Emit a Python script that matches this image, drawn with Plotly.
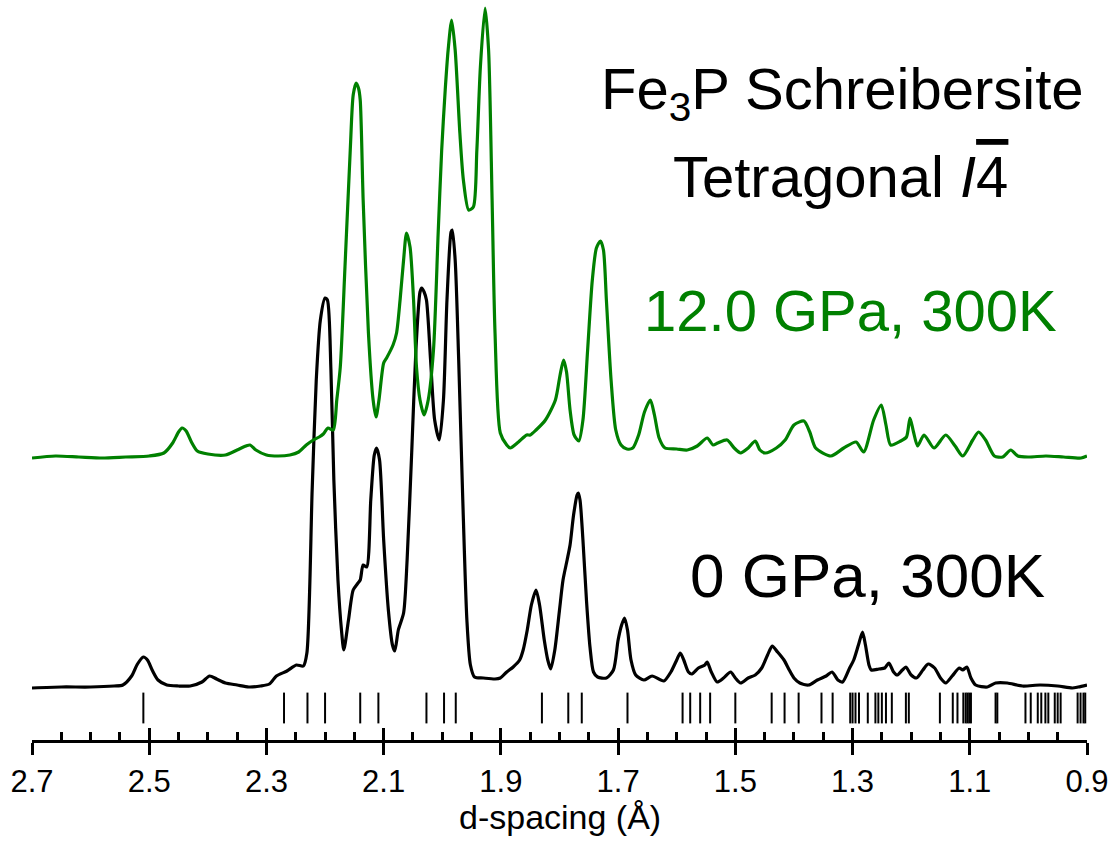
import plotly.graph_objects as go

# ---- 0 GPa, 300 K pattern: d-spacing (Å) and intensity above baseline (arb. units)
d_0gpa = [2.700, 2.650, 2.600, 2.560, 2.545, 2.530, 2.520, 2.510, 2.503, 2.495, 2.485, 2.470,
          2.450, 2.430, 2.410, 2.397, 2.385, 2.370, 2.350, 2.330, 2.310, 2.295, 2.283, 2.265,
          2.249, 2.237, 2.231, 2.222, 2.215, 2.208, 2.200, 2.196, 2.190, 2.185, 2.178, 2.172,
          2.168, 2.160, 2.152, 2.145, 2.140, 2.135, 2.129, 2.122, 2.116, 2.112, 2.107, 2.100,
          2.092, 2.085, 2.081, 2.075, 2.066, 2.060, 2.052, 2.045, 2.038, 2.035, 2.031, 2.027,
          2.020, 2.013, 2.005, 1.998, 1.992, 1.985, 1.983, 1.978, 1.972, 1.965, 1.958, 1.952,
          1.945, 1.930, 1.910, 1.901, 1.890, 1.879, 1.868, 1.862, 1.855, 1.848, 1.840, 1.834,
          1.826, 1.820, 1.815, 1.808, 1.800, 1.794, 1.787, 1.782, 1.776, 1.770, 1.768, 1.765,
          1.760, 1.754, 1.748, 1.742, 1.735, 1.720, 1.708, 1.700, 1.694, 1.689, 1.684, 1.678,
          1.670, 1.656, 1.642, 1.622, 1.610, 1.600, 1.594, 1.588, 1.580, 1.574, 1.563, 1.552,
          1.548, 1.541, 1.531, 1.520, 1.508, 1.500, 1.491, 1.478, 1.466, 1.455, 1.445, 1.437,
          1.428, 1.417, 1.408, 1.400, 1.390, 1.375, 1.360, 1.345, 1.335, 1.325, 1.317, 1.305,
          1.298, 1.290, 1.283, 1.278, 1.272, 1.268, 1.255, 1.245, 1.238, 1.230, 1.224, 1.215,
          1.209, 1.200, 1.191, 1.180, 1.171, 1.160, 1.150, 1.141, 1.130, 1.118, 1.112, 1.105,
          1.098, 1.090, 1.070, 1.056, 1.036, 1.010, 0.980, 0.950, 0.925, 0.915, 0.900]
i_0gpa = [-1, 0, 0, 1, 2, 11, 23, 30, 27, 17, 7, 2,
          1, 1, 5, 11, 8, 4, 2, 0, 1, 3, 11, 16,
          22, 21, 34, 197, 307, 367, 389, 387, 317, 207, 107, 57,
          37, 67, 97, 103, 107, 122, 120, 187, 232, 239, 227, 147,
          77, 42, 36, 57, 74, 127, 237, 337, 395, 399, 395, 387,
          327, 267, 247, 287, 387, 455, 457, 427, 327, 187, 67, 22,
          10, 9, 8, 9, 15, 20, 27, 37, 57, 82, 97, 82,
          47, 27, 18, 37, 77, 107, 127, 142, 172, 192, 194, 187,
          147, 87, 40, 15, 10, 9, 17, 47, 62, 69, 57, 27,
          12, 7, 11, 6, 15, 27, 34, 27, 15, 13, 19, 22,
          25, 15, 5, 9, 15, 9, 4, 9, 12, 19, 32, 41,
          35, 27, 17, 9, 4, 2, 7, 11, 15, 7, 5, 19,
          27, 42, 55, 42, 22, 17, 18, 19, 24, 15, 12, 17,
          20, 12, 9, 17, 23, 19, 9, 4, 11, 19, 17, 20,
          9, 2, 0, 4, 4, 1, 2, 1, -1, 0, 2]

# ---- 12.0 GPa, 300 K pattern
d_12gpa = [2.700, 2.660, 2.620, 2.580, 2.540, 2.500, 2.475, 2.460, 2.450, 2.444, 2.437, 2.428,
           2.418, 2.400, 2.370, 2.350, 2.335, 2.328, 2.318, 2.300, 2.280, 2.260, 2.245, 2.232,
           2.220, 2.210, 2.203, 2.195, 2.186, 2.180, 2.174, 2.166, 2.157, 2.152, 2.147, 2.143,
           2.140, 2.135, 2.126, 2.118, 2.113, 2.108, 2.100, 2.095, 2.084, 2.078, 2.072, 2.066,
           2.061, 2.055, 2.049, 2.044, 2.038, 2.031, 2.024, 2.015, 2.007, 2.001, 1.995, 1.990,
           1.984, 1.978, 1.970, 1.964, 1.955, 1.947, 1.941, 1.935, 1.927, 1.921, 1.915, 1.910,
           1.901, 1.890, 1.884, 1.870, 1.856, 1.850, 1.840, 1.824, 1.807, 1.799, 1.793, 1.788,
           1.782, 1.775, 1.767, 1.760, 1.752, 1.744, 1.737, 1.730, 1.725, 1.720, 1.712, 1.704,
           1.695, 1.685, 1.675, 1.665, 1.655, 1.645, 1.638, 1.630, 1.620, 1.600, 1.582, 1.565,
           1.548, 1.538, 1.530, 1.514, 1.502, 1.491, 1.478, 1.466, 1.458, 1.449, 1.430, 1.415,
           1.400, 1.383, 1.373, 1.363, 1.337, 1.315, 1.294, 1.281, 1.264, 1.251, 1.243, 1.235,
           1.218, 1.208, 1.202, 1.196, 1.189, 1.178, 1.161, 1.141, 1.125, 1.112, 1.095, 1.085,
           1.073, 1.058, 1.044, 1.030, 1.018, 1.000, 0.970, 0.940, 0.910, 0.900]
i_12gpa = [0, 2, 1, 0, 1, 2, 5, 15, 26, 30, 27, 16,
           7, 4, 3, 8, 12, 13, 8, 3, 2, 3, 6, 13,
           18, 21, 24, 30, 28, 58, 91, 191, 308, 363, 375, 370,
           358, 258, 125, 58, 41, 58, 95, 100, 113, 125, 158, 198,
           225, 211, 158, 91, 58, 43, 58, 108, 225, 308, 368, 408,
           438, 408, 325, 278, 248, 251, 308, 391, 450, 408, 258, 125,
           25, 13, 10, 16, 23, 23, 28, 38, 58, 83, 98, 86,
           48, 23, 17, 38, 108, 178, 210, 217, 208, 158, 78, 28,
           13, 9, 10, 23, 46, 58, 43, 20, 10, 9, 8, 12,
           20, 13, 15, 18, 10, 5, 10, 17, 8, 5, 10, 18,
           33, 37, 26, 10, 2, 10, 16, 6, 38, 53, 33, 13,
           17, 21, 40, 26, 12, 23, 10, 23, 12, 2, 18, 26,
           18, 2, 1, 8, 2, 1, 2, 1, 0, 2]

# ---- Calculated reflection positions, tetragonal I-4 Fe3P (Å)
bragg_d = [2.510, 2.270, 2.230, 2.200, 2.140, 2.109, 2.027, 1.997, 1.977, 1.830,
           1.785, 1.762, 1.684, 1.590, 1.577, 1.560, 1.543, 1.500, 1.438, 1.416,
           1.392, 1.353, 1.334, 1.304, 1.300, 1.295, 1.289, 1.274, 1.261, 1.256,
           1.250, 1.243, 1.233, 1.209, 1.204, 1.151, 1.129, 1.121, 1.111, 1.107,
           1.104, 1.101, 1.098, 1.056, 1.053, 1.005, 0.996, 0.984, 0.978, 0.971,
           0.966, 0.955, 0.950, 0.945, 0.916, 0.911, 0.906, 0.903]

x_ticks = [2.7, 2.5, 2.3, 2.1, 1.9, 1.7, 1.5, 1.3, 1.1, 0.9]

# vertical stacking of the two patterns and the reflection row
offset_0gpa = 0
offset_12gpa = 229
bragg_row = -21

GREEN = "#008000"
FONT = "Arial, 'Liberation Sans', sans-serif"

fig = go.Figure()
fig.add_trace(go.Scatter(
    x=d_0gpa, y=[v + offset_0gpa for v in i_0gpa], mode="lines",
    line=dict(color="black", width=3.2, shape="spline", smoothing=0.7),
    showlegend=False, hoverinfo="skip"))
fig.add_trace(go.Scatter(
    x=d_12gpa, y=[v + offset_12gpa for v in i_12gpa], mode="lines",
    line=dict(color=GREEN, width=3.2, shape="spline", smoothing=0.7),
    showlegend=False, hoverinfo="skip"))
fig.add_trace(go.Scatter(
    x=bragg_d, y=[bragg_row] * len(bragg_d), mode="markers", xaxis="x2",
    marker=dict(symbol="line-ns", size=22, line=dict(color="black", width=2)),
    showlegend=False, hoverinfo="skip"))

axis_common = dict(range=[2.7, 0.9], showgrid=False, zeroline=False,
                   tickmode="array", tickvals=x_ticks)

fig.update_layout(
    width=1117, height=841,
    margin=dict(l=32, r=30, t=0, b=101),
    paper_bgcolor="white", plot_bgcolor="white",
    font=dict(family=FONT, color="black"),
    xaxis=dict(**axis_common, showline=True, linecolor="black", linewidth=3,
               ticks="outside", ticklen=12, tickwidth=3, tickcolor="black",
               ticktext=[f"{v:.1f}" for v in x_ticks],
               tickfont=dict(family=FONT, size=31, color="black")),
    xaxis2=dict(**axis_common, overlaying="x", anchor="y", side="bottom",
                showline=False, ticks="inside", ticklen=12, tickwidth=3,
                tickcolor="black", showticklabels=False,
                minor=dict(ticks="inside", ticklen=8, tickwidth=3,
                           tickcolor="black", dtick=0.05, tick0=0.9)),
    yaxis=dict(range=[-53, 687], visible=False, showgrid=False, zeroline=False),
)

annotations = [
    dict(text="Fe<sub>3</sub>P Schreibersite", x=0.768, y=0.874, size=58, color="black"),
    dict(text="Tetragonal <i>I</i><span style=\"text-decoration:overline\">4</span>",
         x=0.766, y=0.762, size=58, color="black"),
    dict(text="12.0 GPa, 300K", x=0.776, y=0.580, size=58, color=GREEN),
    dict(text="0 GPa, 300K", x=0.792, y=0.222, size=62, color="black"),
    dict(text="d-spacing (Å)", x=0.500, y=-0.104, size=34, color="black"),
]
for a in annotations:
    fig.add_annotation(text=a["text"], x=a["x"], y=a["y"], xref="paper", yref="paper",
                       xanchor="center", yanchor="middle", showarrow=False, borderpad=0,
                       font=dict(family=FONT, size=a["size"], color=a["color"]))

fig.write_html("out.html")
